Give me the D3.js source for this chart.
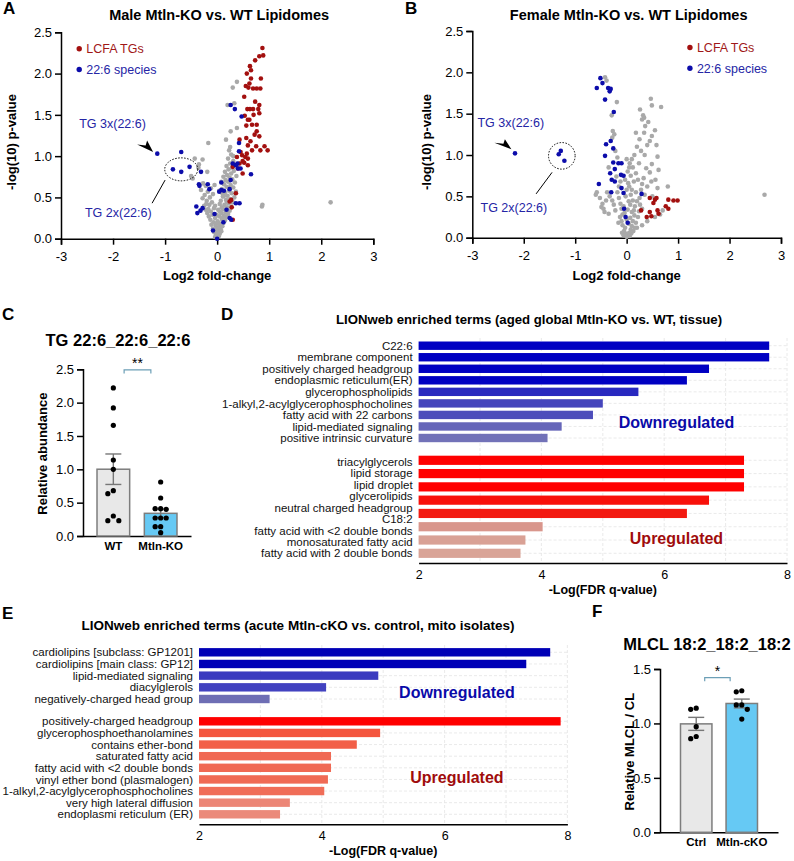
<!DOCTYPE html>
<html><head><meta charset="utf-8">
<script src="https://cdn.jsdelivr.net/npm/d3@7"></script>
<style>
body{margin:0;background:#fff}
svg{display:block;font-family:"Liberation Sans",Arial,sans-serif}
</style></head><body>
<svg id="c" width="794" height="861"></svg>
<script>
// ---------------- DATA ----------------
const volcanoXTicks = [-3,-2,-1,0,1,2,3];
const volcanoYTicks = [0,0.5,1,1.5,2,2.5];

const maleGray = [[-0.04,0.02],[0.0,0.01],[0.03,0.03],[-0.02,0.05],[0.05,0.06],[-0.06,0.08],[0.02,0.09],[0.07,0.11],[-0.08,0.12],[0.0,0.13],[0.04,0.14],[-0.03,0.16],[0.10,0.15],[-0.11,0.17],[0.06,0.18],[0.12,0.19],[-0.07,0.20],[0.01,0.21],[0.15,0.22],[-0.13,0.23],[0.09,0.24],[-0.04,0.25],[0.18,0.26],[-0.16,0.27],[0.04,0.27],[0.13,0.28],[-0.09,0.29],[0.21,0.30],[-0.19,0.31],[0.08,0.31],[0.16,0.32],[-0.12,0.33],[0.24,0.34],[-0.22,0.35],[0.02,0.35],[0.11,0.36],[-0.06,0.37],[0.19,0.38],[0.27,0.39],[-0.25,0.40],[-0.15,0.41],[0.14,0.41],[0.22,0.43],[-0.10,0.44],[0.30,0.44],[-0.20,0.46],[0.07,0.46],[0.17,0.47],[0.25,0.48],[-0.28,0.49],[-0.14,0.50],[0.33,0.50],[0.11,0.51],[0.20,0.52],[-0.24,0.53],[-0.08,0.54],[0.28,0.55],[0.15,0.56],[-0.18,0.57],[0.36,0.57],[0.23,0.58],[-0.31,0.59],[0.09,0.60],[-0.12,0.61],[0.31,0.62],[0.18,0.63],[-0.22,0.64],[0.26,0.65],[0.13,0.66],[-0.27,0.67],[0.34,0.68],[0.21,0.69],[0.16,0.71],[0.29,0.72],[-0.47,0.73],[0.24,0.74],[0.12,0.75],[0.37,0.76],[0.19,0.77],[-0.50,0.76],[0.27,0.79],[-0.19,0.81],[0.15,0.81],[0.32,0.82],[0.22,0.84],[-0.36,0.86],[0.29,0.86],[0.18,0.88],[0.35,0.89],[-0.35,0.90],[0.25,0.91],[-0.28,0.96],[0.31,0.94],[0.21,0.97],[0.27,1.02],[0.31,1.00],[0.23,1.07],[0.25,1.11],[-0.17,1.16],[0.17,1.20],[0.38,1.34],[0.20,1.62],[0.33,1.64],[0.30,1.83],[0.38,1.90],[2.18,0.44],[0.86,0.39],[0.87,0.41],[-0.43,0.97],[0.26,1.30],[-0.01,0.04],[0.01,0.07],[-0.05,0.10],[0.08,0.09],[-0.02,0.18],[0.03,0.19],[0.11,0.25],[-0.01,0.29],[0.05,0.33],[-0.04,0.40],[0.05,0.42],[0.19,0.44],[0.10,0.55],[0.04,0.58],[-0.05,0.65],[-0.17,0.36],[0.09,0.38],[0.13,0.52],[-0.21,0.42],[0.08,0.69],[0.24,0.62]];
const maleRed = [[0.87,2.31],[0.885,2.22],[0.81,2.21],[0.73,2.16],[0.63,2.09],[0.57,2.00],[0.65,2.04],[0.65,1.94],[0.84,1.94],[0.62,1.88],[0.55,1.85],[0.60,1.83],[0.69,1.82],[0.76,1.82],[0.83,1.82],[0.52,1.72],[0.58,1.57],[0.63,1.57],[0.69,1.57],[0.79,1.57],[0.81,1.62],[0.53,1.49],[0.81,1.52],[0.62,1.44],[0.67,1.38],[0.76,1.38],[0.59,1.44],[0.56,1.37],[0.76,1.30],[0.72,1.26],[0.81,1.24],[0.56,1.22],[0.43,1.20],[0.59,1.13],[0.75,1.12],[0.91,1.12],[0.97,1.07],[0.67,1.07],[0.83,1.07],[0.57,1.03],[0.48,1.01],[0.54,0.99],[0.38,0.99],[0.59,0.97],[0.49,0.94],[0.43,0.91],[0.59,0.89],[0.30,0.87],[0.40,0.85],[0.49,0.79],[0.36,0.55],[0.27,0.47],[0.24,0.45],[0.30,0.23],[0.28,0.38],[0.45,1.05],[0.52,0.92],[0.64,1.18],[0.70,1.50],[0.73,1.66]];
const maleBlue = [[-1.15,1.03],[-0.69,1.05],[-0.85,0.84],[-0.69,0.81],[-0.53,0.87],[-0.31,0.81],[-0.34,0.64],[-0.18,0.66],[-0.15,0.60],[-0.40,0.39],[-0.28,0.37],[-0.38,0.31],[-0.32,0.34],[-0.08,0.10],[0.0,0.0],[0.04,0.57],[0.08,0.59],[0.24,0.60],[0.36,0.43],[0.43,0.43],[0.27,0.23],[0.24,0.25],[0.26,1.62],[0.34,1.57],[0.47,1.48],[0.42,1.16],[0.42,1.06],[0.39,0.91],[0.36,0.89],[0.65,0.78],[0.26,0.71],[0.13,0.58],[0.30,0.91],[0.40,0.85],[0.45,0.85],[0.08,0.68],[-0.35,0.66],[0.18,0.35],[0.12,0.20],[-0.05,0.30]];

const femaleGray = [[-0.42,1.94],[-0.39,1.90],[-0.19,1.64],[-0.29,1.48],[-0.27,1.29],[-0.24,1.25],[-0.28,1.21],[-0.22,1.05],[-0.18,0.97],[-0.35,0.85],[-0.20,0.74],[-0.58,0.55],[-0.60,0.52],[-0.49,0.37],[-0.45,0.35],[-0.47,0.41],[-0.43,0.31],[-0.38,0.55],[-0.33,0.50],[-0.28,0.45],[-0.25,0.40],[-0.22,0.33],[-0.35,0.29],[-0.18,0.55],[-0.15,0.48],[-0.12,0.41],[-0.10,0.35],[-0.08,0.28],[-0.15,0.62],[-0.12,0.68],[0.47,1.68],[0.67,1.58],[0.49,1.60],[0.26,1.55],[0.32,1.48],[0.34,1.45],[0.30,1.43],[0.18,1.27],[0.34,1.27],[0.49,1.23],[0.25,1.19],[0.45,1.17],[0.20,1.10],[0.28,1.05],[0.15,1.00],[0.10,0.95],[0.06,0.90],[0.12,0.85],[0.49,0.89],[0.45,0.79],[0.18,0.78],[0.08,0.75],[0.22,0.70],[0.14,0.68],[0.30,0.65],[0.40,0.62],[0.05,0.62],[0.10,0.58],[0.18,0.55],[0.35,0.52],[0.50,0.50],[0.25,0.48],[0.12,0.45],[0.07,0.40],[0.16,0.38],[0.30,0.35],[0.55,0.25],[0.65,0.28],[0.70,0.33],[0.40,0.20],[0.30,0.15],[0.20,0.12],[2.68,0.52],[0.00,0.01],[0.02,0.03],[-0.02,0.05],[0.05,0.06],[-0.05,0.08],[0.08,0.10],[-0.03,0.12],[0.10,0.14],[-0.08,0.15],[0.04,0.17],[0.12,0.20],[-0.10,0.20],[0.00,0.22],[0.07,0.24],[-0.13,0.25],[0.15,0.27],[-0.04,0.30],[0.10,0.31],[0.02,0.34],[0.14,0.33],[-0.06,0.38],[0.04,0.44],[-0.02,0.50],[0.08,0.52],[0.00,0.58],[0.03,0.66],[-0.03,0.70],[0.02,0.80],[0.05,0.85],[0.00,0.95],[0.06,0.02],[-0.06,0.03],[0.09,0.05],[0.13,0.08],[-0.09,0.06],[0.16,0.12],[0.18,0.18],[0.22,0.25],[-0.16,0.18],[0.24,0.32],[0.26,0.40],[0.20,0.44],[0.28,0.58],[0.33,0.72],[0.38,0.84],[0.24,0.90],[0.35,1.00],[0.40,1.12],[0.36,1.35],[0.42,1.40],[0.55,1.30],[0.58,1.12],[0.60,0.98],[0.62,0.82],[0.56,0.70],[0.60,0.60],[0.48,0.68],[0.80,0.62],[-0.52,0.48],[-0.40,0.45]];
const femaleRed = [[0.45,0.31],[0.55,0.46],[0.45,0.48],[0.52,0.42],[0.39,0.25],[0.62,0.29],[0.81,0.46],[0.91,0.45],[0.99,0.45],[0.76,0.38],[0.81,0.35],[0.28,0.33],[0.58,0.48],[0.48,0.26],[0.60,0.33]];
const femaleBlue = [[-2.17,1.02],[-1.32,1.01],[-1.28,1.05],[-1.21,0.93],[-0.51,1.93],[-0.47,1.87],[-0.58,1.81],[-0.36,1.81],[-0.31,1.80],[-0.33,1.77],[-0.42,1.67],[-0.25,1.52],[-0.31,1.17],[-0.40,1.13],[-0.42,0.99],[-0.26,0.91],[-0.10,0.90],[-0.32,0.78],[-0.23,0.83],[-0.11,0.76],[-0.06,0.75],[-0.29,0.70],[-0.23,0.68],[-0.54,0.65],[-0.10,0.60],[-0.06,0.54],[0.29,0.53],[-0.30,0.55],[-0.02,0.25],[0.02,0.18],[-0.05,0.35],[-0.26,1.08],[-0.16,0.90]];

const tgGroups = ["WT","Mtln-KO"];
const tgWT = [2.22,1.92,1.66,1.14,1.00,0.68,0.635,0.30,0.23,0.23];
const tgKO = [0.81,0.57,0.41,0.41,0.40,0.27,0.27,0.27,0.14,0.14,0.05];
const tgTicks = [0,0.5,1,1.5,2,2.5];

const mlclGroups = ["Ctrl","Mtln-cKO"];
const mlclCtrl = [1.13,1.14,0.97,0.86,0.88];
const mlclKO = [1.30,1.29,1.17,1.17,1.13,1.04];
const mlclTicks = [0,0.5,1,1.5];

const lionTicks = [2,4,6,8];
const dDownTerms = ["C22:6","membrane component","positively charged headgroup","endoplasmic reticulum(ER)","glycerophospholipids","1-alkyl,2-acylglycerophosphocholines","fatty acid with 22 carbons","lipid-mediated signaling","positive intrinsic curvature"];
const dDownVals = [7.71,7.71,6.73,6.37,5.58,5.00,4.84,4.33,4.10];
const dUpTerms = ["triacylglycerols","lipid storage","lipid droplet","glycerolipids","neutral charged headgroup","C18:2","fatty acid with <2 double bonds","monosaturated fatty acid","fatty acid with 2 double bonds"];
const dUpVals = [7.30,7.30,7.30,6.73,6.37,null,4.02,3.74,3.66];

const eDownTerms = ["cardiolipins [subclass: GP1201]","cardiolipins [main class: GP12]","lipid-mediated signaling","diacylglerols","negatively-charged head group"];
const eDownVals = [7.72,7.33,4.92,4.07,3.15];
const eUpTerms = ["positively-charged headgroup","glycerophosphoethanolamines","contains ether-bond","saturated fatty acid","fatty acid with <2 double bonds","vinyl ether bond (plasmalogen)","1-alkyl,2-acylglycerophosphocholines","very high lateral diffusion","endoplasmi reticulum (ER)"];
const eUpVals = [7.89,4.95,4.57,4.15,4.15,4.10,4.04,3.48,3.32];

// ---------------- DRAW ----------------
const svg = d3.select('#c');
const RED='#a3100f', BLUE='#0c0caa', GRAY='#a9a9a9', ANN='#2525a5';

function bold(t,x,y,size,anchor){
  return svg.append('text').attr('x',x).attr('y',y).attr('font-size',size)
    .attr('font-weight','bold').attr('text-anchor',anchor||'start').attr('fill','#000').text(t);
}
function styleAxis(g,fs){
  g.attr('font-family',null).attr('font-size',fs);
  g.selectAll('path.domain').attr('stroke','#000').attr('stroke-width',1.5);
  g.selectAll('.tick line').attr('stroke','#000').attr('stroke-width',1.5);
  g.selectAll('.tick text').attr('fill','#000');
}

function volcano(o){
  const x=d3.scaleLinear().domain([-3,3]).range(o.xr);
  const y=d3.scaleLinear().domain([0,2.5]).range(o.yr);
  const gx=svg.append('g').attr('transform',`translate(0,${o.yr[0]})`)
    .call(d3.axisBottom(x).tickValues(volcanoXTicks).tickSize(6).tickPadding(7).tickFormat(d=>String(d)));
  styleAxis(gx,13);
  const gy=svg.append('g').attr('transform',`translate(${o.xr[0]},0)`)
    .call(d3.axisLeft(y).tickValues(volcanoYTicks).tickSize(6).tickPadding(3).tickFormat(d=>d.toFixed(1)));
  styleAxis(gy,13);
  const pts=(data,col)=>svg.append('g').selectAll('circle').data(data).join('circle')
    .attr('cx',d=>x(d[0])).attr('cy',d=>y(d[1])).attr('r',2.3).attr('fill',col);
  pts(o.gray,GRAY); pts(o.red,RED); pts(o.blue,BLUE);
  bold(o.title,(o.xr[0]+o.xr[1])/2+2,20,14.5,'middle');
  bold('Log2 fold-change',(o.xr[0]+o.xr[1])/2,280,13,'middle');
  svg.append('text').attr('transform',`translate(${o.ylx},142) rotate(-90)`).attr('text-anchor','middle')
    .attr('font-size',13).attr('font-weight','bold').text('-log(10) p-value');
  // legend
  [[RED,'LCFA TGs',2.3,'#a01818'],[BLUE,'22:6 species',2.05,ANN]].forEach(l=>{
    svg.append('circle').attr('cx',x(o.legX)).attr('cy',y(l[2])).attr('r',2.7).attr('fill',l[0]);
    svg.append('text').attr('x',x(o.legX)+7).attr('y',y(l[2])+4.5).attr('font-size',12.5).attr('fill',l[3]).text(l[1]);
  });
  // annotations
  svg.append('text').attr('x',x(o.t3[0])).attr('y',y(o.t3[1])+4.5).attr('font-size',12.5).attr('fill',ANN).text('TG 3x(22:6)');
  svg.append('text').attr('x',x(o.t2[0])).attr('y',y(o.t2[1])+4.5).attr('font-size',12.5).attr('fill',ANN).text('TG 2x(22:6)');
  svg.append('path').attr('transform',`translate(${x(o.arrow[0])},${y(o.arrow[1])})`)
    .attr('d',o.arrowD).attr('fill','#000');
  svg.append('ellipse').attr('cx',x(o.ell[0])).attr('cy',y(o.ell[1])).attr('rx',o.ell[2]).attr('ry',o.ell[3])
    .attr('fill','none').attr('stroke','#000').attr('stroke-width',1).attr('stroke-dasharray','1.5,1.5');
  svg.append('line').attr('x1',x(o.ln[0])).attr('y1',y(o.ln[1])).attr('x2',x(o.ln[2])).attr('y2',y(o.ln[3]))
    .attr('stroke','#000').attr('stroke-width',1);
}

volcano({xr:[61,373.3],yr:[238.7,32.3],gray:maleGray,red:maleRed,blue:maleBlue,
  title:'Male Mtln-KO vs. WT Lipidomes',ylx:16,legX:-2.65,
  t3:[-2.65,1.40],t2:[-2.54,0.32],arrow:[-1.23,1.05],arrowD:'M0,0 L-16,-7.5 L-7.5,-6.5 L-6,-11.5 Z',
  ell:[-0.69,0.84,16.5,11.5],ln:[-1.25,0.43,-1.0,0.71]});
volcano({xr:[472.3,781],yr:[237.7,31],gray:femaleGray,red:femaleRed,blue:femaleBlue,
  title:'Female Mtln-KO vs. WT Lipidomes',ylx:431,legX:1.23,
  t3:[-2.90,1.39],t2:[-2.84,0.37],arrow:[-2.24,1.07],arrowD:'M0,0 L-17,-6.5 L-8,-5.5 L-6.5,-10 Z',
  ell:[-1.26,0.99,13.3,13.3],ln:[-1.76,0.53,-1.45,0.79]});

bold('A',3,14,17); bold('B',405,14,17);

// ---- dot-bar panels ----
function swarm(vals,y,step,minD){
  const order=vals.map(v=>v).sort((a,b)=>b-a);
  const placed=[];
  order.forEach(v=>{
    const py=y(v);
    for(const k of [0,-1,1,-2,2,-3,3]){
      const dx=k*step;
      if(placed.every(q=>Math.hypot(q.dx-dx,q.py-py)>=minD)){placed.push({dx,py});break;}
    }
  });
  return placed;
}
function mean(a){return d3.mean(a);}
function sem(a){return d3.deviation(a)/Math.sqrt(a.length);}

function dotBar(o){
  const x=d3.scaleBand().domain(o.groups).range(o.xr).paddingInner(0.31).paddingOuter(o.po);
  const y=d3.scaleLinear().domain(o.ydom).range(o.yr);
  const gx=svg.append('g').attr('transform',`translate(0,${o.yr[0]})`)
    .call(d3.axisBottom(x).tickSize(0).tickPadding(6));
  styleAxis(gx,11.5); gx.selectAll('.tick text').attr('font-weight','bold');
  const gy=svg.append('g').attr('transform',`translate(${o.xr[0]},0)`)
    .call(d3.axisLeft(y).tickValues(o.ticks).tickSize(6).tickPadding(3).tickFormat(d=>d.toFixed(1)));
  styleAxis(gy,13);
  o.sets.forEach((vals,i)=>{
    const g=o.groups[i], m=mean(vals), s=sem(vals), cx=x(g)+x.bandwidth()/2;
    svg.append('rect').attr('x',x(g)).attr('y',y(m)).attr('width',x.bandwidth()).attr('height',y(0)-y(m))
      .attr('fill',o.fills[i]).attr('stroke','#7d7d7d').attr('stroke-width',1.5);
    const eg=svg.append('g').attr('stroke','#777').attr('stroke-width',1.4);
    eg.append('line').attr('x1',cx).attr('x2',cx).attr('y1',y(m-s)).attr('y2',y(m+s));
    [m-s,m+s].forEach(v=>eg.append('line').attr('x1',cx-8).attr('x2',cx+8).attr('y1',y(v)).attr('y2',y(v)));
    swarm(vals,y,5.5,5.3).forEach(p=>svg.append('circle').attr('cx',cx+p.dx).attr('cy',p.py).attr('r',2.6).attr('fill','#000'));
  });
  // significance bracket
  const c0=x(o.groups[0])+x.bandwidth()/2, c1=x(o.groups[1])+x.bandwidth()/2;
  const bx0=c0+x.bandwidth()*o.br[0], bx1=c1-x.bandwidth()*o.br[1], by=y(o.brY);
  svg.append('path').attr('d',`M${bx0},${by+3.5} V${by} H${bx1} V${by+3.5}`).attr('fill','none')
    .attr('stroke','#6c9fb6').attr('stroke-width',1.2);
  svg.append('text').attr('x',(bx0+bx1)/2).attr('y',by-2).attr('text-anchor','middle').attr('font-size',14).text(o.star);
  bold(o.title,o.tx,o.ty,o.tfs,'middle');
  svg.append('text').attr('transform',`translate(${o.ylx},${(o.yr[0]+o.yr[1])/2+1}) rotate(-90)`).attr('text-anchor','middle')
    .attr('font-size',13).attr('font-weight','bold').text(o.ylab);
}

dotBar({groups:tgGroups,sets:[tgWT,tgKO],xr:[83,191],po:0.296,ydom:[0,2.5],yr:[536,369.3],ticks:tgTicks,
  fills:['#e8e8e8','#66c9f4'],br:[0.33,0.3],brY:2.49,star:'**',title:'TG 22:6_22:6_22:6',tx:118,ty:346,tfs:16.5,
  ylab:'Relative abundance',ylx:47});
dotBar({groups:mlclGroups,sets:[mlclCtrl,mlclKO],xr:[660,778],po:0.45,ydom:[0,1.5],yr:[832.3,669],ticks:mlclTicks,
  fills:['#e8e8e8','#66c9f4'],br:[0.27,0.37],brY:1.42,star:'*',title:'MLCL 18:2_18:2_18:2',tx:707,ty:650,tfs:16.5,
  ylab:'Relative MLCL / CL',ylx:634});
bold('C',2,320,17); bold('F',592,617,17);

// ---- LIONweb bar panels ----
function lion(o){
  const x=d3.scaleLinear().domain([2,8]).range(o.xr);
  const yDown=d3.scalePoint().domain(o.downTerms).range(o.downY);
  const yUpL=d3.scalePoint().domain(o.upTerms).range(o.upLY);
  const upBars=o.upTerms.map((t,i)=>({t,v:o.upVals[i]})).filter(d=>d.v!==null);
  const yUpB=d3.scalePoint().domain(upBars.map(d=>d.t)).range(o.upBY);
  const grid=svg.append('g').attr('stroke','#e4e4e4').attr('stroke-width',0.8).attr('stroke-dasharray','3,2');
  d3.range(3,9).forEach(v=>grid.append('line').attr('x1',x(v)).attr('x2',x(v)).attr('y1',o.gridTop).attr('y2',o.axisY));
  o.downTerms.forEach(t=>grid.append('line').attr('x1',x(2)).attr('x2',x(8)).attr('y1',yDown(t)).attr('y2',yDown(t)));
  upBars.forEach(d=>grid.append('line').attr('x1',x(2)).attr('x2',x(8)).attr('y1',yUpB(d.t)).attr('y2',yUpB(d.t)));
  const cd=d3.scaleLinear().domain(o.cdDom).range(o.cdRange).clamp(true);
  const cu=d3.scaleLinear().domain(o.cuDom).range(o.cuRange).clamp(true);
  o.downTerms.forEach((t,i)=>{
    const v=o.downVals[i];
    svg.append('rect').attr('x',x(2)).attr('y',yDown(t)-o.hDown/2).attr('width',x(v)-x(2)).attr('height',o.hDown).attr('fill',cd(v));
    svg.append('text').attr('x',x(2)-6).attr('y',yDown(t)).attr('dy','0.36em').attr('text-anchor','end').attr('font-size',11.5).attr('fill','#111').text(t);
  });
  upBars.forEach(d=>{
    svg.append('rect').attr('x',x(2)).attr('y',yUpB(d.t)-o.hUp/2).attr('width',x(d.v)-x(2)).attr('height',o.hUp).attr('fill',cu(d.v));
  });
  o.upTerms.forEach(t=>svg.append('text').attr('x',x(2)-6).attr('y',yUpL(t)).attr('dy','0.36em').attr('text-anchor','end').attr('font-size',11.5).attr('fill','#111').text(t));
  const gx=svg.append('g').attr('transform',`translate(0,${o.axisY})`)
    .call(d3.axisBottom(x).tickValues(lionTicks).tickSize(0).tickPadding(7).tickFormat(d=>String(d)));
  styleAxis(gx,12.5);
  bold('-Log(FDR q-value)',(o.xr[0]+o.xr[1])/2,o.axisY+31,12.5,'middle');
  bold(o.title,o.tx,o.ty,o.tfs,'middle');
  svg.append('text').attr('x',x(6.2)).attr('y',o.downLblY).attr('text-anchor','middle').attr('font-size',16).attr('font-weight','bold').attr('fill','#0a0aa8').text('Downregulated');
  svg.append('text').attr('x',x(6.2)).attr('y',o.upLblY).attr('text-anchor','middle').attr('font-size',16).attr('font-weight','bold').attr('fill','#a00c0c').text('Upregulated');
}

lion({xr:[418.6,787],downTerms:dDownTerms,downVals:dDownVals,upTerms:dUpTerms,upVals:dUpVals,
  downY:[345.7,438],upLY:[461.7,553.3],upBY:[460.3,553.3],hDown:8.4,hUp:9.2,gridTop:338,axisY:563,
  cdDom:[4.1,6.37],cdRange:['#7272b8','#0000c2'],cuDom:[3.66,4.1,6.3,7.3],cuRange:['#d9a497','#d9938a','#f21c12','#ff0000'],
  title:'LIONweb enriched terms (aged global Mtln-KO vs. WT, tissue)',tx:529,ty:323.5,tfs:13.2,downLblY:427.5,upLblY:543.5});
lion({xr:[199,567.4],downTerms:eDownTerms,downVals:eDownVals,upTerms:eUpTerms,upVals:eUpVals,
  downY:[652.3,699],upLY:[721.3,814.3],upBY:[721.3,814.3],hDown:8.4,hUp:8.4,gridTop:645,axisY:824.3,
  cdDom:[3.15,4.0,5.0,7.3],cdRange:['#6e6eb4','#4343c0','#3a3abf','#0000b6'],cuDom:[3.3,3.5,4.1,5.0,7.9],cuRange:['#eb8b7b','#ec8575','#f06a55','#f4553d','#ff0000'],
  title:'LIONweb enriched terms (acute Mtln-cKO vs. control, mito isolates)',tx:298,ty:630,tfs:13.5,downLblY:698,upLblY:782.5});
bold('D',221,320,17); bold('E',2,619,17);
</script></body></html>
